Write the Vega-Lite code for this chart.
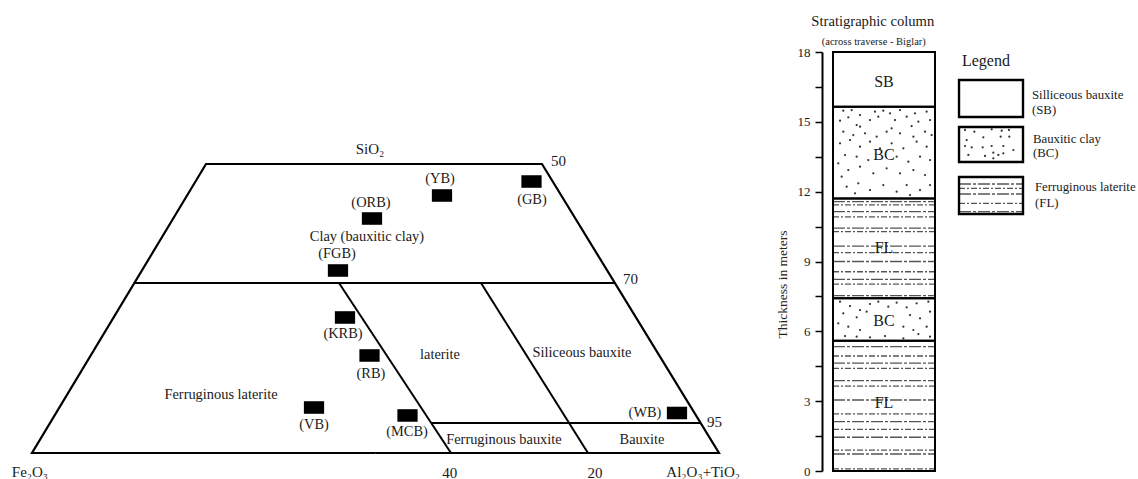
{
"$schema":"https://vega.github.io/schema/vega-lite/v6.json",
"background":"white",
"padding":0,
"spacing":0,
"bounds":"flush",
"config":{"view":{"stroke":null},"font":"Liberation Serif","text":{"font":"Liberation Serif","color":"#1a1a1a"}},
"datasets":{
"outline":[{"i":0,"u":50,"v":0},{"i":1,"u":100,"v":0},{"i":2,"u":74.24,"v":100},{"i":3,"u":25.33,"v":100},{"i":4,"u":0,"v":0},{"i":5,"u":50,"v":0}],
"segments":[{"u":14.9,"v":58.82,"u2":84.85,"v2":58.82},{"u":44.69,"v":58.82,"u2":60.99,"v2":0},{"u":65.36,"v":58.82,"u2":80.93,"v2":0},{"u":58.11,"v":10.38,"u2":97.33,"v2":10.38}],
"samples":[{"name":"YB","u":59.68,"v":89.1},{"name":"GB","u":72.71,"v":93.94},{"name":"ORB","u":49.49,"v":81.14},{"name":"FGB","u":44.54,"v":63.15},{"name":"KRB","u":45.56,"v":46.89},{"name":"RB","u":49.13,"v":33.74},{"name":"VB","u":41.05,"v":15.74},{"name":"MCB","u":54.66,"v":12.98},{"name":"WB","u":93.89,"v":13.84}],
"diagramText":[
{"text":"(YB)","u":59.39,"v":94.81,"kind":"sample"},
{"text":"(GB)","u":72.78,"v":87.54,"kind":"sample"},
{"text":"(ORB)","u":49.34,"v":86.51,"kind":"sample"},
{"text":"(FGB)","u":44.4,"v":68.86,"kind":"sample"},
{"text":"(KRB)","u":45.27,"v":41.18,"kind":"sample"},
{"text":"(RB)","u":49.34,"v":27.34,"kind":"sample"},
{"text":"(VB)","u":41.05,"v":9.69,"kind":"sample"},
{"text":"(MCB)","u":54.59,"v":7.27,"kind":"sample"},
{"text":"(WB)","u":89.23,"v":13.84,"kind":"sample"},
{"text":"Clay (bauxitic clay)","u":48.76,"v":74.74,"kind":"region"},
{"text":"Ferruginous laterite","u":27.51,"v":20.07,"kind":"region"},
{"text":"laterite","u":59.39,"v":33.91,"kind":"region"},
{"text":"Siliceous bauxite","u":80.06,"v":34.6,"kind":"region"},
{"text":"Ferruginous bauxite","u":68.7,"v":4.5,"kind":"region"},
{"text":"Bauxite","u":88.79,"v":4.5,"kind":"region"},
{"text":"SiO₂","u":49.2,"v":105.2,"kind":"corner"},
{"text":"Fe₂O₃","u":-0.3,"v":-6.6,"kind":"corner"},
{"text":"Al₂O₃+TiO₂","u":97.7,"v":-6.6,"kind":"corner"},
{"text":"40","u":60.8,"v":-6.9,"kind":"corner"},
{"text":"20","u":81.95,"v":-6.9,"kind":"corner"},
{"text":"50","u":75.55,"v":101.0,"kind":"tick"},
{"text":"70","u":86.03,"v":60.2,"kind":"tick"},
{"text":"95","u":98.25,"v":10.7,"kind":"tick"}
],
"strata":[{"layer":"FL","m":0,"m2":5.6},{"layer":"BC","m":5.6,"m2":7.42},{"layer":"FL","m":7.42,"m2":11.71},{"layer":"BC","m":11.71,"m2":15.65},{"layer":"SB","m":15.65,"m2":18}],
"strataLabels":[{"text":"SB","m":16.71},{"text":"BC","m":13.57},{"text":"FL","m":9.57},{"text":"BC","m":6.46},{"text":"FL","m":2.94}],
"columnTitle":[{"text":"Stratigraphic column","x":0.39,"m":19.29,"part":"title"},{"text":"(across traverse - Biglar)","x":0.4,"m":18.43,"part":"subtitle"}],
"columnDots":[
{"x":0.101,"m":15.478},{"x":0.183,"m":15.507},{"x":0.265,"m":15.292},{"x":0.412,"m":15.435},{"x":0.493,"m":15.478},{"x":0.559,"m":15.364},{"x":0.657,"m":15.507},{"x":0.804,"m":15.364},{"x":0.918,"m":15.435},
{"x":0.15,"m":15.192},{"x":0.069,"m":15.049},{"x":0.232,"m":14.863},{"x":0.363,"m":15.077},{"x":0.444,"m":15.22},{"x":0.608,"m":15.077},{"x":0.722,"m":15.22},{"x":0.837,"m":15.006},{"x":0.951,"m":15.077},{"x":0.265,"m":14.791},{"x":0.575,"m":14.719},{"x":0.771,"m":14.82},
{"x":0.101,"m":14.576},{"x":0.199,"m":14.433},{"x":0.314,"m":14.505},{"x":0.428,"m":14.361},{"x":0.526,"m":14.576},{"x":0.657,"m":14.505},{"x":0.788,"m":14.361},{"x":0.902,"m":14.576},{"x":0.967,"m":14.433},
{"x":0.069,"m":14.075},{"x":0.167,"m":14.218},{"x":0.265,"m":13.932},{"x":0.363,"m":14.147},{"x":0.461,"m":13.86},{"x":0.575,"m":14.075},{"x":0.69,"m":13.86},{"x":0.82,"m":14.147},{"x":0.918,"m":13.932},
{"x":0.118,"m":13.574},{"x":0.232,"m":13.502},{"x":0.346,"m":13.359},{"x":0.624,"m":13.502},{"x":0.739,"m":13.288},{"x":0.853,"m":13.502},{"x":0.951,"m":13.359},{"x":0.052,"m":13.216},
{"x":0.15,"m":12.93},{"x":0.265,"m":13.073},{"x":0.395,"m":12.786},{"x":0.526,"m":13.001},{"x":0.657,"m":12.786},{"x":0.788,"m":12.93},{"x":0.902,"m":12.715},{"x":0.085,"m":12.643},
{"x":0.134,"m":12.214},{"x":0.248,"m":12.357},{"x":0.363,"m":12.07},{"x":0.493,"m":12.285},{"x":0.624,"m":11.999},{"x":0.722,"m":12.285},{"x":0.853,"m":12.07},{"x":0.951,"m":12.285},{"x":0.216,"m":11.927},{"x":0.755,"m":11.856},
{"x":0.069,"m":7.274},{"x":0.167,"m":7.088},{"x":0.265,"m":6.916},{"x":0.363,"m":7.174},{"x":0.444,"m":7.274},{"x":0.542,"m":7.059},{"x":0.624,"m":7.231},{"x":0.722,"m":7.03},{"x":0.82,"m":7.202},{"x":0.935,"m":7.274},{"x":0.951,"m":6.844},{"x":0.101,"m":6.773},{"x":0.232,"m":6.601},{"x":0.33,"m":6.844},{"x":0.755,"m":6.701},{"x":0.853,"m":6.558},{"x":0.052,"m":6.343},{"x":0.15,"m":6.2},{"x":0.265,"m":6.057},{"x":0.69,"m":6.2},{"x":0.788,"m":6.057},{"x":0.918,"m":6.2},{"x":0.118,"m":5.799},{"x":0.232,"m":5.77},{"x":0.363,"m":5.742},{"x":0.51,"m":5.799},{"x":0.69,"m":5.699},{"x":0.837,"m":5.885},{"x":0.951,"m":5.77}
],
"columnLines":[
{"m":5.34,"style":"a"},{"m":4.94,"style":"b"},{"m":4.63,"style":"a"},{"m":4.41,"style":"b"},{"m":3.88,"style":"a"},{"m":3.65,"style":"b"},{"m":3.05,"style":"a"},{"m":2.45,"style":"b"},{"m":2.12,"style":"a"},{"m":1.79,"style":"b"},{"m":1.45,"style":"a"},{"m":0.9,"style":"b"},{"m":0.73,"style":"a"},{"m":0.09,"style":"b"},
{"m":11.57,"style":"a"},{"m":11.43,"style":"b"},{"m":11.14,"style":"a"},{"m":10.92,"style":"b"},{"m":10.43,"style":"a"},{"m":10.28,"style":"b"},{"m":9.66,"style":"a"},{"m":9.38,"style":"b"},{"m":9.0,"style":"a"},{"m":8.56,"style":"b"},{"m":8.23,"style":"a"},{"m":8.03,"style":"b"},{"m":7.53,"style":"a"}
],
"legendBoxes":[{"key":"SB","y":0,"y2":1},{"key":"BC","y":1.27,"y2":2.216},{"key":"FL","y":2.622,"y2":3.622}],
"legendDots":[
{"x":0.094,"y":1.351},{"x":0.24,"y":1.396},{"x":0.51,"y":1.333},{"x":0.667,"y":1.369},{"x":0.781,"y":1.351},{"x":0.12,"y":1.622},{"x":0.38,"y":1.55},{"x":0.651,"y":1.531},{"x":0.786,"y":1.531},{"x":0.094,"y":1.784},{"x":0.198,"y":1.82},{"x":0.37,"y":1.82},{"x":0.51,"y":1.784},{"x":0.693,"y":1.784},{"x":0.849,"y":1.892},{"x":0.536,"y":1.964},{"x":0.146,"y":2.027},{"x":0.406,"y":2.054},{"x":0.615,"y":2.027},{"x":0.693,"y":1.982},{"x":0.536,"y":2.117}
],
"legendLines":[{"y":2.811,"style":"a"},{"y":2.927,"style":"b"},{"y":3.081,"style":"a"},{"y":3.333,"style":"b"},{"y":3.559,"style":"a"}],
"legendText":[
{"text":"Legend","x":0.42,"y":-0.514,"kind":"heading"},
{"text":"Silliceous bauxite","x":1.14,"y":0.405,"kind":"item"},
{"text":"(SB)","x":1.14,"y":0.811,"kind":"item"},
{"text":"Bauxitic clay","x":1.156,"y":1.595,"kind":"item"},
{"text":"(BC)","x":1.156,"y":1.973,"kind":"item"},
{"text":"Ferruginous laterite","x":1.1875,"y":2.892,"kind":"item"},
{"text":"(FL)","x":1.1875,"y":3.324,"kind":"item"}
]
},
"hconcat":[
{
"width":822,"height":479,
"encoding":{
"x":{"field":"u","type":"quantitative","scale":{"domain":[-4.66,115],"nice":false,"zero":false},"axis":null},
"y":{"field":"v","type":"quantitative","scale":{"domain":[-9,156.75],"nice":false,"zero":false},"axis":null}
},
"layer":[
{"data":{"name":"outline"},"mark":{"type":"line","color":"black","strokeWidth":2.2,"strokeJoin":"miter"},"encoding":{"order":{"field":"i","type":"quantitative"}}},
{"data":{"name":"segments"},"mark":{"type":"rule","color":"black","strokeWidth":2},"encoding":{"x2":{"field":"u2"},"y2":{"field":"v2"}}},
{"data":{"name":"samples"},"mark":{"type":"point","shape":"M-1,-0.62H1V0.62H-1Z","filled":true,"color":"black","opacity":1,"size":410,"strokeWidth":0}},
{"data":{"name":"diagramText"},"transform":[{"filter":"datum.kind == 'sample' || datum.kind == 'region'"}],"mark":{"type":"text","fontSize":14.4,"baseline":"middle","align":"center"},"encoding":{"text":{"field":"text"}}},
{"data":{"name":"diagramText"},"transform":[{"filter":"datum.kind == 'corner'"}],"mark":{"type":"text","fontSize":15,"baseline":"middle","align":"center"},"encoding":{"text":{"field":"text"}}},
{"data":{"name":"diagramText"},"transform":[{"filter":"datum.kind == 'tick'"}],"mark":{"type":"text","fontSize":15,"baseline":"middle","align":"left"},"encoding":{"text":{"field":"text"}}}
]
},
{
"width":123,"height":479,
"encoding":{
"y":{"field":"m","type":"quantitative","scale":{"domain":[0,18],"range":[471,52],"nice":false,"zero":false},
"axis":{"title":"Thickness in meters","values":[0,1.5,3,4.5,6,7.5,9,10.5,12,13.5,15,16.5,18],"labelExpr":"datum.value % 3 == 0 ? datum.label : ''","grid":false,"domainColor":"black","domainWidth":2,"tickColor":"black","tickWidth":1.5,"tickSize":7,"labelFont":"Liberation Serif","labelFontSize":13,"labelColor":"#222","labelPadding":5,"labelFlush":false,"labelOverlap":false,"titleFont":"Liberation Serif","titleFontSize":13.5,"titleFontWeight":"normal","titleColor":"#222","titleX":-40,"titleY":284,"titleAngle":270,"titleBaseline":"middle","titleAlign":"center"}}
},
"layer":[
{"data":{"name":"strata"},"mark":{"type":"rect","fill":"white","strokeWidth":0},"encoding":{"x":{"datum":0,"type":"quantitative","scale":{"domain":[-0.1078,1.098],"nice":false,"zero":false},"axis":null},"x2":{"datum":1},"y2":{"field":"m2"}}},
{"data":{"name":"columnDots"},"mark":{"type":"point","shape":"circle","filled":true,"color":"#333","size":5,"opacity":1},"encoding":{"x":{"field":"x","type":"quantitative","scale":{"domain":[-0.1078,1.098],"nice":false,"zero":false},"axis":null}}},
{"data":{"name":"columnLines"},"mark":{"type":"rule","color":"#555","strokeWidth":1.3},"encoding":{"x":{"datum":0,"type":"quantitative","scale":{"domain":[-0.1078,1.098],"nice":false,"zero":false},"axis":null},"x2":{"datum":1},"strokeDash":{"field":"style","type":"nominal","scale":{"domain":["a","b"],"range":[[12,2,3,2],[6,2,2,2]]},"legend":null}}},
{"data":{"name":"strata"},"mark":{"type":"rect","fillOpacity":0,"stroke":"black","strokeWidth":2},"encoding":{"x":{"datum":0,"type":"quantitative","scale":{"domain":[-0.1078,1.098],"nice":false,"zero":false},"axis":null},"x2":{"datum":1},"y2":{"field":"m2"}}},
{"data":{"name":"strataLabels"},"mark":{"type":"text","fontSize":16,"baseline":"middle","align":"center"},"encoding":{"x":{"datum":0.5,"type":"quantitative","scale":{"domain":[-0.1078,1.098],"nice":false,"zero":false},"axis":null},"text":{"field":"text"}}},
{"data":{"name":"columnTitle"},"transform":[{"filter":"datum.part == 'title'"}],"mark":{"type":"text","fontSize":14.6,"baseline":"middle","align":"center"},"encoding":{"x":{"field":"x","type":"quantitative","scale":{"domain":[-0.1078,1.098],"nice":false,"zero":false},"axis":null},"text":{"field":"text"}}},
{"data":{"name":"columnTitle"},"transform":[{"filter":"datum.part == 'subtitle'"}],"mark":{"type":"text","fontSize":10.5,"baseline":"middle","align":"center"},"encoding":{"x":{"field":"x","type":"quantitative","scale":{"domain":[-0.1078,1.098],"nice":false,"zero":false},"axis":null},"text":{"field":"text"}}}
]
},
{
"width":193,"height":479,
"encoding":{
"y":{"field":"y","type":"quantitative","scale":{"domain":[-2.162,10.784],"reverse":true,"nice":false,"zero":false},"axis":null}
},
"layer":[
{"data":{"name":"legendBoxes"},"mark":{"type":"rect","fill":"white","strokeWidth":0},"encoding":{"x":{"datum":0,"type":"quantitative","scale":{"domain":[-0.219,2.797],"nice":false,"zero":false},"axis":null},"x2":{"datum":1},"y2":{"field":"y2"}}},
{"data":{"name":"legendDots"},"mark":{"type":"point","shape":"circle","filled":true,"color":"#333","size":5,"opacity":1},"encoding":{"x":{"field":"x","type":"quantitative","scale":{"domain":[-0.219,2.797],"nice":false,"zero":false},"axis":null}}},
{"data":{"name":"legendLines"},"mark":{"type":"rule","color":"#555","strokeWidth":1.3},"encoding":{"x":{"datum":0,"type":"quantitative","scale":{"domain":[-0.219,2.797],"nice":false,"zero":false},"axis":null},"x2":{"datum":1},"strokeDash":{"field":"style","type":"nominal","scale":{"domain":["a","b"],"range":[[12,2,3,2],[6,2,2,2]]},"legend":null}}},
{"data":{"name":"legendBoxes"},"mark":{"type":"rect","fillOpacity":0,"stroke":"black","strokeWidth":2.4},"encoding":{"x":{"datum":0,"type":"quantitative","scale":{"domain":[-0.219,2.797],"nice":false,"zero":false},"axis":null},"x2":{"datum":1},"y2":{"field":"y2"}}},
{"data":{"name":"legendText"},"transform":[{"filter":"datum.kind == 'heading'"}],"mark":{"type":"text","fontSize":16,"baseline":"middle","align":"center"},"encoding":{"x":{"field":"x","type":"quantitative","scale":{"domain":[-0.219,2.797],"nice":false,"zero":false},"axis":null},"text":{"field":"text"}}},
{"data":{"name":"legendText"},"transform":[{"filter":"datum.kind == 'item'"}],"mark":{"type":"text","fontSize":12.8,"baseline":"middle","align":"left"},"encoding":{"x":{"field":"x","type":"quantitative","scale":{"domain":[-0.219,2.797],"nice":false,"zero":false},"axis":null},"text":{"field":"text"}}}
]
}
]
}
